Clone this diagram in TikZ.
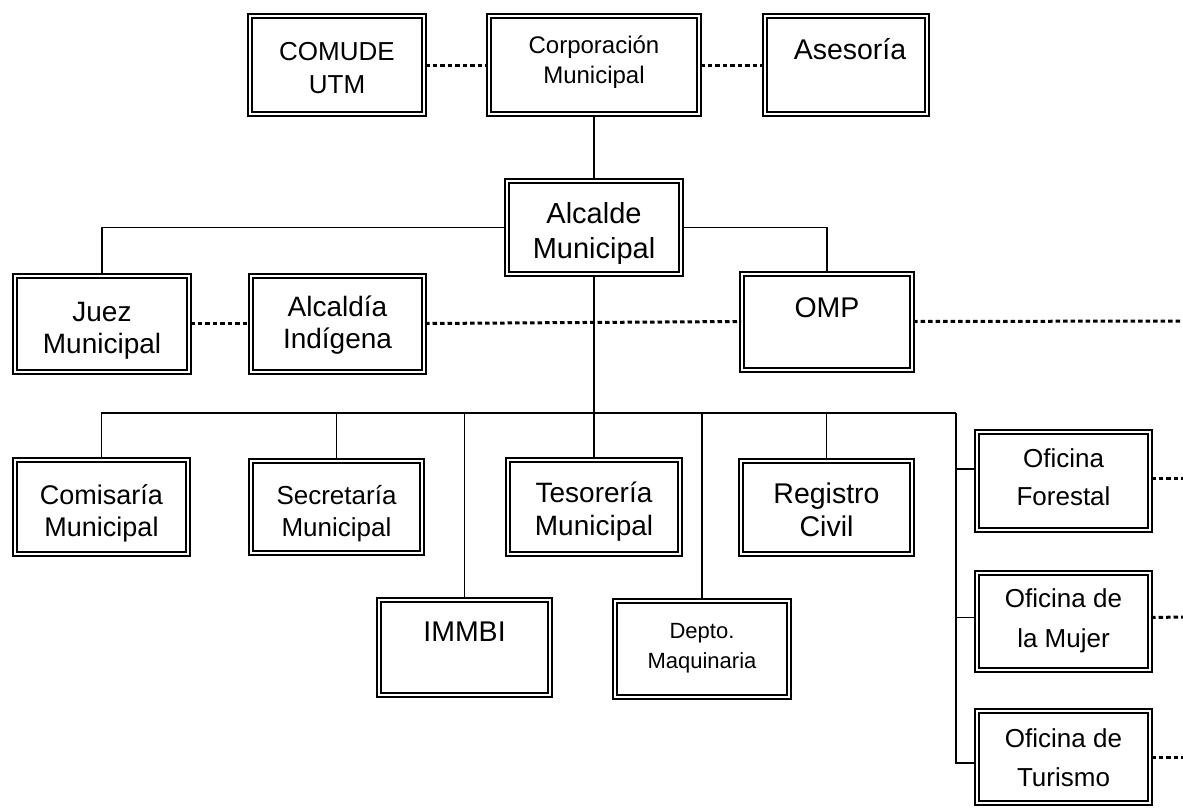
\documentclass[tikz,border=0pt]{standalone}
\usepackage{fontspec}
\setmainfont{Liberation Sans}
\newcommand\txtsz[2]{\fontsize{#1}{#2}\selectfont}
\begin{document}
\begin{tikzpicture}[x=1pt,y=-1pt,
  box/.style={draw=black, line width=2pt, double=white, double distance=2pt,
    fill=white, inner sep=0, minimum width=#1, minimum height=96pt},
  box/.default=174pt,
  lbl/.style={anchor=north, inner sep=0, align=center},
  conn/.style={line width=1.5pt},
  dots/.style={line width=3pt, dash pattern=on 4.5pt off 3pt}]
\useasboundingbox (0,0) rectangle (1183,809);

% coordinates for the buses and free ends
\coordinate (busL) at (101,413);
\coordinate (busR) at (956,413);
\coordinate (endOMP) at (1183,321);
\coordinate (endF) at (1183,478);
\coordinate (endM) at (1183,617);
\coordinate (endT) at (1183,757);

% boxes (text placed separately, top aligned)
\node[box=210pt, minimum height=98pt] (corp) at (594,65) {};
\node[box, minimum height=98pt] (comude) at (337,65) {};
\node[box=162pt, minimum height=98pt] (ases) at (846,65) {};
\node[box, minimum height=93pt] (alc) at (594,227.5) {};
\node[box] (juez) at (102,323.5) {};
\node[box=173pt] (indig) at (337.5,323.5) {};
\node[box=170pt] (omp) at (827,321.5) {};
\node[box=173pt, minimum height=94pt] (comis) at (101.5,507) {};
\node[box=171pt, minimum height=92pt] (secre) at (336.5,506.5) {};
\node[box=172pt, minimum height=94pt] (teso) at (594,507) {};
\node[box=171pt, minimum height=93pt] (regis) at (826.5,507.5) {};
\node[box=171pt, minimum height=95pt] (immbi) at (464.5,647.5) {};
\node[box] (depto) at (702,649) {};
\node[box=173pt, minimum height=98pt] (fores) at (1063.5,481) {};
\node[box=173pt, minimum height=97pt] (mujer) at (1063.5,621.5) {};
\node[box=173pt, minimum height=92pt] (turis) at (1063.5,757) {};

% solid connectors
\draw[conn] (corp.south) -- (alc.north);
\draw[conn] (alc.west) -| (juez.north);
\draw[conn] (alc.east) -| (omp.north);
\draw[conn] (alc.south) -- (alc.south |- busL);
\draw[conn] (busL) -- (busR);
\draw[conn] (comis.north) -- (comis.north |- busL);
\draw[conn] (secre.north) -- (secre.north |- busL);
\draw[conn] (immbi.north) -- (immbi.north |- busL);
\draw[conn] (teso.north) -- (teso.north |- busL);
\draw[conn] (depto.north) -- (depto.north |- busL);
\draw[conn] (regis.north) -- (regis.north |- busL);
\draw[conn] (busR) |- ([yshift=-6pt]turis.west);
\draw[conn] (busR |- fores.west) ++(0,-12) -- ([yshift=12pt]fores.west);
\draw[conn] (busR |- mujer.west) ++(0,-4) -- ([yshift=4pt]mujer.west);

% dotted connectors
\draw[dots] (comude.east) -- (corp.west);
\draw[dots] (corp.east) -- (ases.west);
\draw[dots] (juez.east) -- (indig.west);
\draw[dots] (indig.east) -- (omp.west);
\draw[dots] (omp.east) -- (endOMP);
\draw[dots] ([yshift=3pt]fores.east) -- (endF);
\draw[dots] ([yshift=4pt]mujer.east) -- (endM);
\draw[dots] (turis.east) -- (endT);

% texts
\node[lbl, font=\txtsz{26}{33}] (t-comude) at (337,42) {COMUDE\\UTM};
\node[lbl, font=\txtsz{24}{30}] (t-corp) at (594,36) {Corporación\\Municipal};
\node[lbl, font=\txtsz{28.5}{33}] (t-ases) at (850,38) {Asesoría};
\node[lbl, font=\txtsz{29}{35}] (t-alc) at (594,202) {Alcalde\\Municipal};
\node[lbl, font=\txtsz{28}{32}] (t-juez) at (102,302) {Juez\\Municipal};
\node[lbl, font=\txtsz{28}{32}] (t-indig) at (337.5,296) {Alcaldía\\Indígena};
\node[lbl, font=\txtsz{28.5}{33}] (t-omp) at (827,297) {OMP};
\node[lbl, font=\txtsz{27}{32}] (t-comis) at (101.5,484) {Comisaría\\Municipal};
\node[lbl, font=\txtsz{26}{32}] (t-secre) at (336.5,485) {Secretaría\\Municipal};
\node[lbl, font=\txtsz{28}{33}] (t-teso) at (594,482) {Tesorería\\Municipal};
\node[lbl, font=\txtsz{28.5}{33}] (t-regis) at (826.5,483) {Registro\\Civil};
\node[lbl, font=\txtsz{28.5}{33}] (t-immbi) at (464.5,622) {IMMBI};
\node[lbl, font=\txtsz{22}{30}] (t-depto) at (702,623) {Depto.\\Maquinaria};
\node[lbl, font=\txtsz{26}{38}] (t-fores) at (1063.5,448) {Oficina\\Forestal};
\node[lbl, font=\txtsz{26}{40}] (t-mujer) at (1063.5,588) {Oficina de\\la Mujer};
\node[lbl, font=\txtsz{26}{39}] (t-turis) at (1063.5,728) {Oficina de\\Turismo};
\end{tikzpicture}
\end{document}
